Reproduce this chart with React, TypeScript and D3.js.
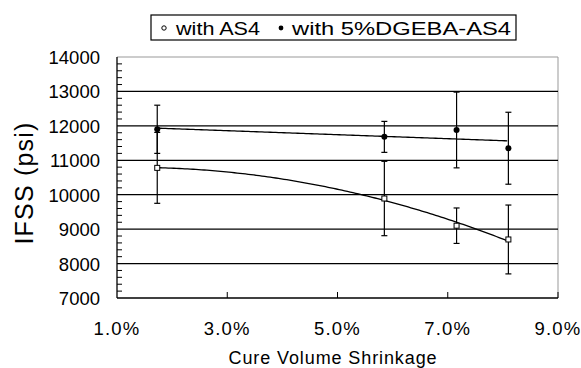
import React from "react";
import * as d3 from "d3";

// Cure volume shrinkage (%) for each sample
const shrinkage = [1.73, 5.85, 7.16, 8.1];
// IFSS (psi) with AS4 fibres (open markers)
const as4Mean = [10780, 9890, 9100, 8700];
const as4Err = [1030, 1080, 515, 1000];
// IFSS (psi) with 5%DGEBA-AS4 fibres (filled markers)
const dgebaMean = [11900, 11680, 11880, 11350];
const dgebaErr = [700, 450, 1100, 1045];

const yTicks = [7000, 8000, 9000, 10000, 11000, 12000, 13000, 14000];
const xTicks = [1, 3, 5, 7, 9];
const legendLabels = ["with AS4", "with 5%DGEBA-AS4"];

const W = 581;
const H = 368;
const M = { left: 117, right: 558, top: 57, bottom: 298 };
const FONT = "'Liberation Sans', Arial, sans-serif";

// Least-squares polynomial fit of the given order (trendline)
function polyFit(xs: number[], ys: number[], order: number) {
  const n = order + 1;
  const A: number[][] = [];
  for (let r = 0; r < n; r++) {
    const row: number[] = [];
    for (let c = 0; c < n; c++) row.push(d3.sum(xs, (x) => Math.pow(x, r + c)));
    row.push(d3.sum(xs, (x, i) => ys[i] * Math.pow(x, r)));
    A.push(row);
  }
  for (let i = 0; i < n; i++) {
    for (let j = i + 1; j < n; j++) {
      const f = A[j][i] / A[i][i];
      for (let k = i; k <= n; k++) A[j][k] -= f * A[i][k];
    }
  }
  const c = new Array(n).fill(0);
  for (let i = n - 1; i >= 0; i--) {
    let v = A[i][n];
    for (let k = i + 1; k < n; k++) v -= A[i][k] * c[k];
    c[i] = v / A[i][i];
  }
  return (x: number) => c.reduce((s, ck, k) => s + ck * Math.pow(x, k), 0);
}

export default function App() {
  const x = d3.scaleLinear().domain([1, 9]).range([M.left, M.right]);
  const y = d3.scaleLinear().domain([7000, 14000]).range([M.bottom, M.top]);

  const minorTicks = d3.range(7000, 14001, 200).filter((v) => v % 1000 !== 0);

  const trend = (ys: number[], order: number) => {
    const f = polyFit(shrinkage, ys, order);
    const xs = d3.range(shrinkage[0], shrinkage[shrinkage.length - 1] + 0.001, 0.05);
    return d3
      .line<number>()
      .x((v) => x(v))
      .y((v) => y(f(v)))(xs) as string;
  };

  const errorBars = (means: number[], errs: number[], key: string) =>
    shrinkage.map((sx, i) => {
      const cx = x(sx);
      const top = y(means[i] + errs[i]);
      const bot = y(means[i] - errs[i]);
      return (
        <g key={key + i} stroke="#000" strokeWidth={1.2}>
          <line x1={cx} x2={cx} y1={top} y2={bot} />
          <line x1={cx - 3} x2={cx + 3} y1={top} y2={top} />
          <line x1={cx - 3} x2={cx + 3} y1={bot} y2={bot} />
        </g>
      );
    });

  return (
    <svg
      width={W}
      height={H}
      style={{ position: "fixed", left: 0, top: 0, background: "#fff" }}
      fontFamily={FONT}
    >
      <rect width={W} height={H} fill="#fff" />

      {/* plot frame */}
      <line x1={M.left} x2={M.right} y1={M.top} y2={M.top} stroke="#999" />
      <line x1={M.right} x2={M.right} y1={M.top} y2={M.bottom} stroke="#999" />

      {/* horizontal gridlines */}
      {yTicks
        .filter((v) => v > 7000 && v < 14000)
        .map((v) => (
          <line key={"g" + v} x1={M.left} x2={M.right} y1={y(v)} y2={y(v)} stroke="#000" strokeWidth={1.2} />
        ))}

      {/* axes */}
      <line x1={M.left} x2={M.left} y1={M.top} y2={M.bottom} stroke="#000" strokeWidth={1.3} />
      <line x1={M.left} x2={M.right} y1={M.bottom} y2={M.bottom} stroke="#000" strokeWidth={1.3} />
      {minorTicks.map((v) => (
        <line key={"m" + v} x1={M.left} x2={M.left + 5} y1={y(v)} y2={y(v)} stroke="#000" />
      ))}
      {xTicks.slice(1).map((v) => (
        <line key={"xt" + v} x1={x(v)} x2={x(v)} y1={M.bottom} y2={M.bottom - 6} stroke="#000" />
      ))}

      {/* tick labels */}
      {yTicks.map((v) => (
        <text key={"yl" + v} x={100} y={y(v) + 7} textAnchor="end" fontSize={18.5}>
          {v}
        </text>
      ))}
      {xTicks.map((v) => (
        <text key={"xl" + v} x={x(v)} y={335} textAnchor="middle" fontSize={18.5} letterSpacing={1.2}>
          {d3.format(".1f")(v) + "%"}
        </text>
      ))}

      {/* axis titles */}
      <text x={333} y={364} textAnchor="middle" fontSize={18} letterSpacing={0.9}>
        Cure Volume Shrinkage
      </text>
      <text
        transform={`translate(33, 183) rotate(-90)`}
        textAnchor="middle"
        fontSize={25}
        letterSpacing={1.2}
      >
        IFSS (psi)
      </text>

      {/* trendlines */}
      <path d={trend(dgebaMean, 1)} fill="none" stroke="#000" strokeWidth={1.3} />
      <path d={trend(as4Mean, 2)} fill="none" stroke="#000" strokeWidth={1.3} />

      {/* error bars */}
      {errorBars(as4Mean, as4Err, "ea")}
      {errorBars(dgebaMean, dgebaErr, "ed")}

      {/* markers */}
      {shrinkage.map((sx, i) => (
        <rect
          key={"oa" + i}
          x={x(sx) - 2.5}
          y={y(as4Mean[i]) - 2.5}
          width={5}
          height={5}
          fill="#fff"
          stroke="#000"
          strokeWidth={1}
        />
      ))}
      {shrinkage.map((sx, i) => (
        <circle key={"od" + i} cx={x(sx)} cy={y(dgebaMean[i])} r={3} fill="#000" />
      ))}

      {/* legend */}
      <rect x={151} y={15} width={365} height={25} fill="#fff" stroke="#000" strokeWidth={1.2} />
      <circle cx={164} cy={28} r={2.2} fill="#fff" stroke="#000" />
      <text x={176} y={34.5} fontSize={18} textLength={84} lengthAdjust="spacingAndGlyphs">
        {legendLabels[0]}
      </text>
      <circle cx={281} cy={28} r={2.4} fill="#000" />
      <text x={292} y={34.5} fontSize={18} textLength={219} lengthAdjust="spacingAndGlyphs">
        {legendLabels[1]}
      </text>
    </svg>
  );
}
